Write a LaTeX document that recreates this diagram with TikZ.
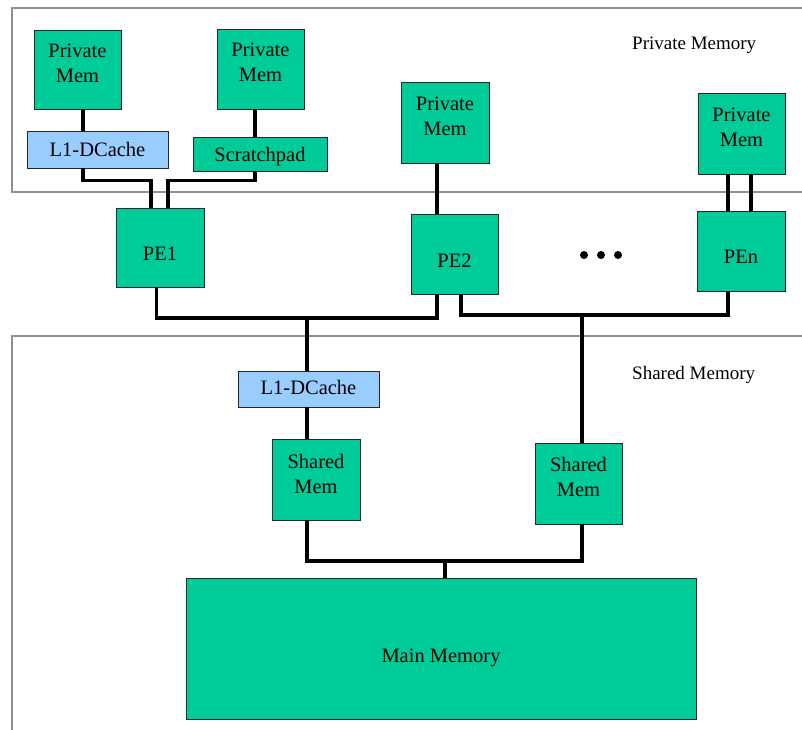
\documentclass[tikz,border=0pt]{standalone}
\usepackage{fontspec}
\setmainfont{Liberation Serif}
\definecolor{memgreen}{HTML}{00CC99}
\definecolor{cacheblue}{HTML}{99CCFF}
\definecolor{framegray}{HTML}{8F8F8F}
\begin{document}
\begin{tikzpicture}[x=1pt,y=-1pt,
  blk/.style={draw=black!85, line width=0.8pt, fill=memgreen, inner sep=0pt,
    minimum width=#1},
  blk/.default=87pt,
  cache/.style={blk=141pt, fill=cacheblue},
  txt/.style={font=\fontsize{20.5}{25}\selectfont, align=center, text depth=0pt, inner sep=0pt},
  region/.style={font=\fontsize{19}{22}\selectfont, anchor=base west, inner sep=0pt},
  wire/.style={line width=3.5pt, line join=miter},
  frame/.style={draw=framegray, line width=1.1pt},
  dot/.style={circle, fill=black, inner sep=0pt, minimum size=8pt}]
\useasboundingbox (0,0) rectangle (802,729);

% region outlines
\draw[frame] (812,8) -- (12,8) -- (12,192) -- (812,192);
\draw[frame] (812,336) -- (12,336) -- (12,740);
\node[region] (lblpriv) at (632,49) {Private Memory};
\node[region] (lblshared) at (632,379) {Shared Memory};

% private side
\node[blk, minimum height=79pt, label={[txt, yshift=6.5pt]center:Private\\Mem}] (pm1) at (77.5,69.5) {};
\node[blk, minimum height=80pt, label={[txt, yshift=6.5pt]center:Private\\Mem}] (pm2) at (260.5,69) {};
\node[cache, minimum height=37pt, label={[txt]center:L1-DCache}] (l1a) at (97.5,149.5) {};
\node[blk=134pt, minimum height=34pt, label={[txt, yshift=-0.5pt]center:Scratchpad}] (scr) at (260,154) {};
\node[blk=88pt, minimum height=79pt, label={[txt, yshift=-6.5pt]center:PE1}] (pe1) at (160,247.5) {};

\node[blk=88pt, minimum height=81pt, label={[txt, yshift=6.5pt]center:Private\\Mem}] (pm3) at (445,122.5) {};
\node[blk, minimum height=80pt, label={[txt, yshift=-7pt]center:PE2}] (pe2) at (454.5,254) {};

\node[blk, minimum height=81pt, label={[txt, yshift=6pt]center:Private\\Mem}] (pmn) at (741.5,133.5) {};
\node[blk=88pt, minimum height=80pt, label={[txt, yshift=-6pt]center:PEn}] (pen) at (741,251) {};

\node[dot] (d1) at (584,255) {};
\node[dot] (d2) at (601,255) {};
\node[dot] (d3) at (618,255) {};

% shared side
\node[cache, minimum height=36pt, label={[txt, yshift=2pt]center:L1-DCache}] (l1b) at (308.5,389) {};
\node[blk=88pt, minimum height=81pt, label={[txt, yshift=6pt]center:Shared\\Mem}] (sm1) at (316,479.5) {};
\node[blk, minimum height=81pt, label={[txt, yshift=6.5pt]center:Shared\\Mem}] (sm2) at (578.5,483.5) {};
\node[blk=510pt, minimum height=141pt, label={[txt, yshift=-7.5pt]center:Main Memory}] (main) at (441,648.5) {};

% bus junctions
\coordinate (jL) at (307,318);
\coordinate (jR) at (582,315);
\coordinate (jM) at (445,561);

% private connections
\draw[wire] ([xshift=5.5pt]pm1.south) -- ([xshift=5.5pt]pm1.south |- l1a.north);
\draw[wire] ([xshift=-5.5pt]pm2.south) -- ([xshift=-5.5pt]pm2.south |- scr.north);
\draw[wire] ([xshift=-14.5pt]l1a.south) -- ++(0,12) -| ([xshift=-9pt]pe1.north);
\draw[wire] ([xshift=-5pt]scr.south) -- ++(0,9) -| ([xshift=8pt]pe1.north);
\draw[wire] ([xshift=-8pt]pm3.south) -- ([xshift=-8pt]pm3.south |- pe2.north);
\draw[wire] ([xshift=-13.5pt]pmn.south) -- ([xshift=-13.5pt]pmn.south |- pen.north);
\draw[wire] ([xshift=9.5pt]pmn.south) -- ([xshift=9.5pt]pmn.south |- pen.north);

% processor buses
\draw[wire] ([xshift=-3.5pt]pe1.south) |- (jL) -| ([xshift=-17.5pt]pe2.south);
\draw[wire] ([xshift=6.5pt]pe2.south) |- (jR) -| ([xshift=-13pt]pen.south);

% shared connections
\draw[wire] (jL) -- (jL |- l1b.north);
\draw[wire] (jL |- l1b.south) -- (jL |- sm1.north);
\draw[wire] (jR) -- (jR |- sm2.north);
\draw[wire] (jL |- sm1.south) |- (jM) -| (jR |- sm2.south);
\draw[wire] (jM) -- (jM |- main.north);
\end{tikzpicture}
\end{document}
